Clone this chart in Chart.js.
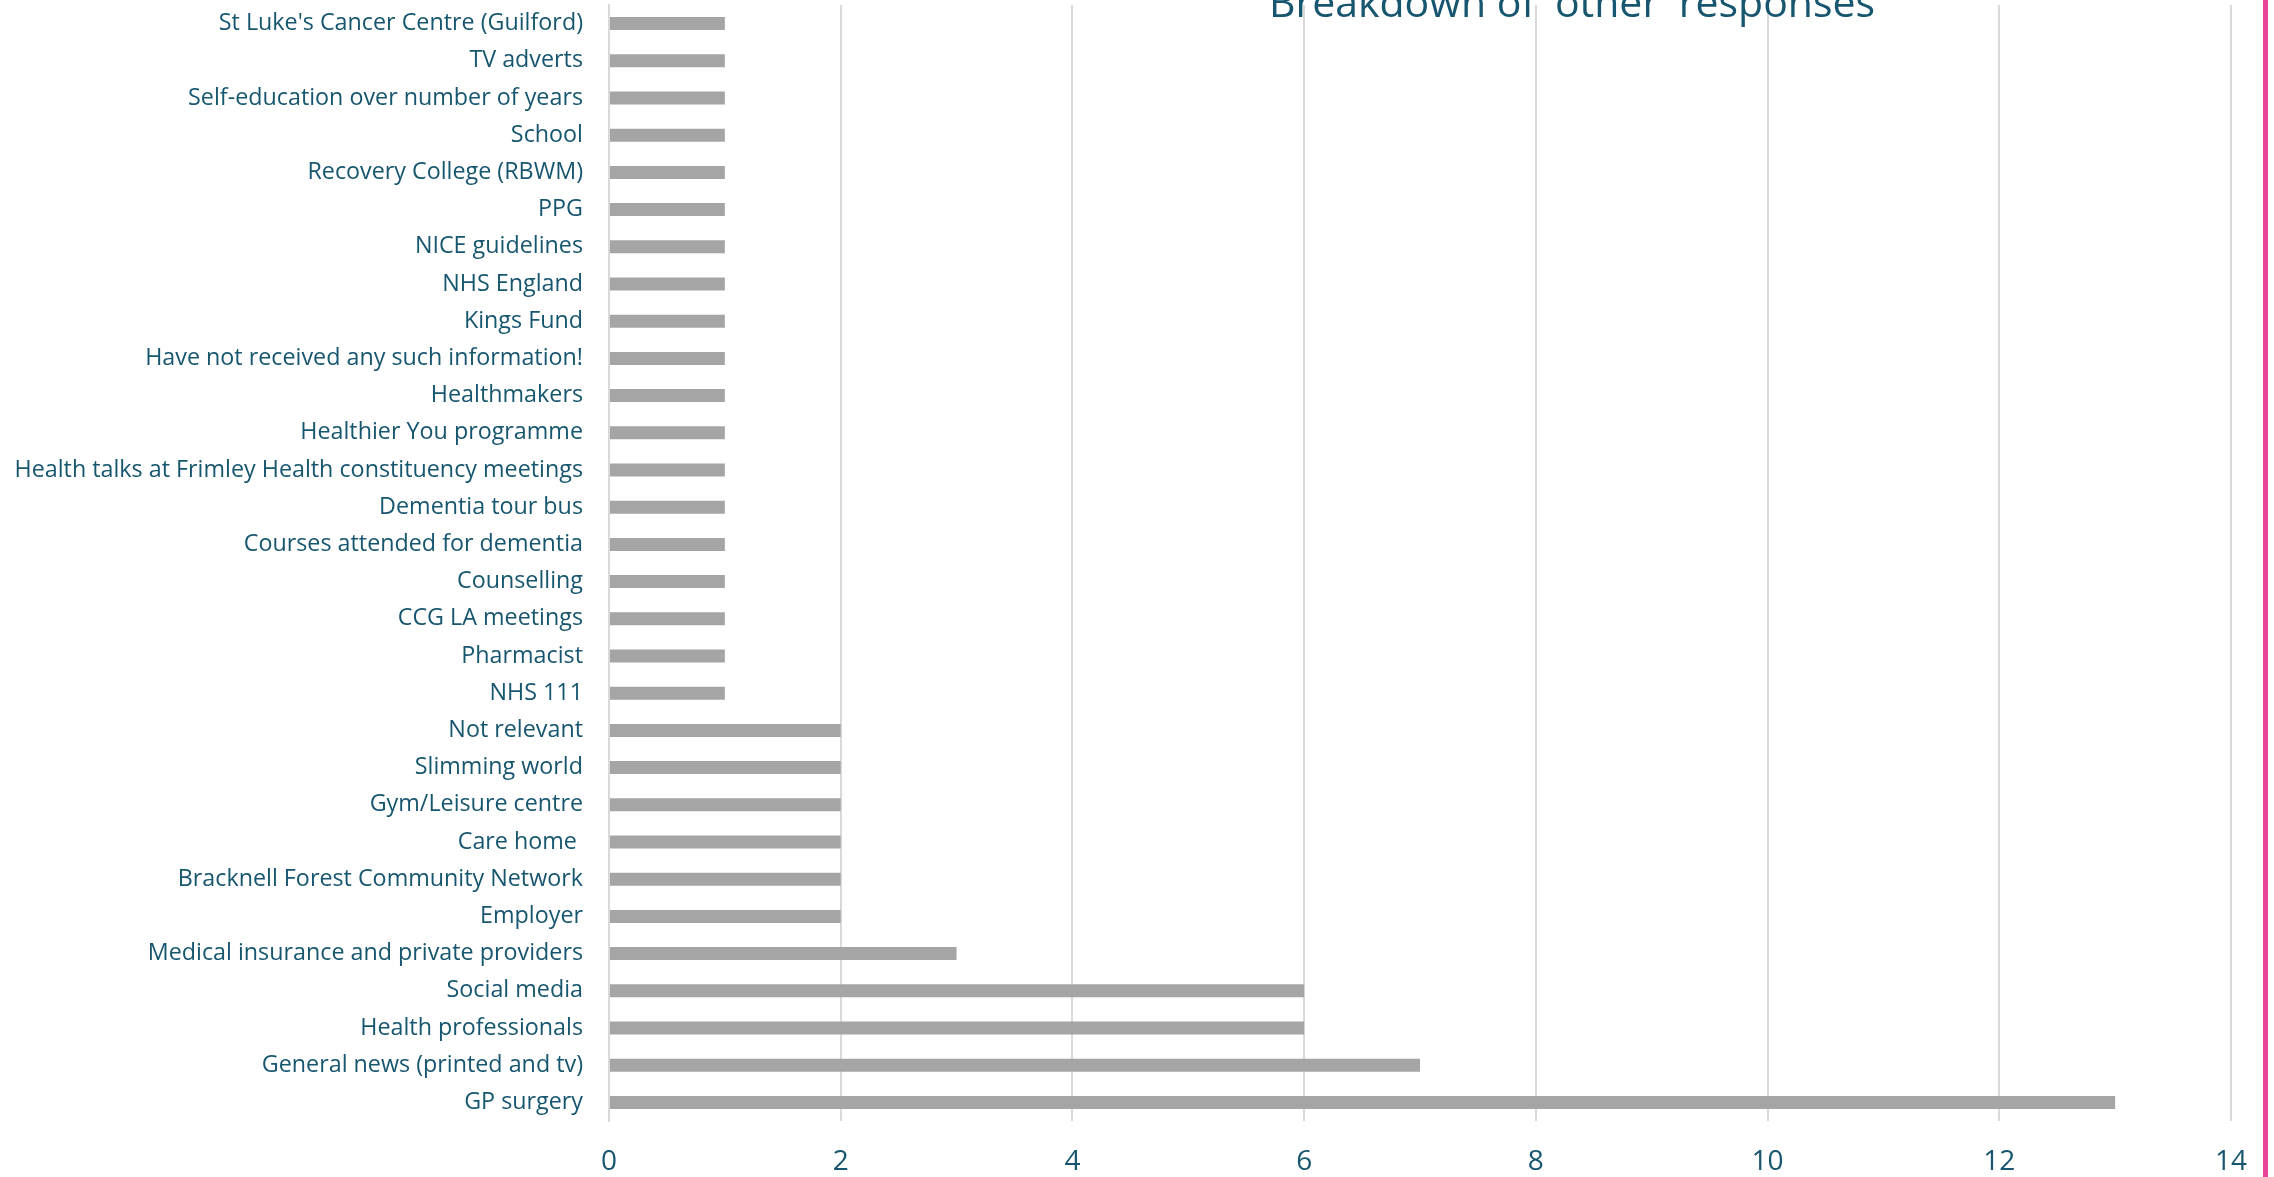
<!DOCTYPE html>
<html>
<head>
<meta charset="utf-8">
<script src="https://cdn.jsdelivr.net/npm/chart.js@4/dist/chart.umd.min.js"></script>
<style>
  html, body { margin: 0; padding: 0; background: #ffffff; }
  #wrap { position: relative; width: 2274px; height: 1177px; overflow: hidden; }
  #c { position: absolute; left: 0; top: 0; }
  #edge { position: absolute; left: 2263px; top: 0; width: 5px; height: 1177px; background: #e8449a; }
</style>
</head>
<body>
<div id="wrap">
  <canvas id="c" width="2274" height="1177"></canvas>
  <div id="edge"></div>
</div>
<script>
const chartTitle = "Breakdown of 'other' responses";

const categories = [
  "St Luke's Cancer Centre (Guilford)",
  "TV adverts",
  "Self-education over number of years",
  "School",
  "Recovery College (RBWM)",
  "PPG",
  "NICE guidelines",
  "NHS England",
  "Kings Fund",
  "Have not received any such information!",
  "Healthmakers",
  "Healthier You programme",
  "Health talks at Frimley Health constituency meetings",
  "Dementia tour bus",
  "Courses attended for dementia",
  "Counselling",
  "CCG LA meetings",
  "Pharmacist",
  "NHS 111",
  "Not relevant",
  "Slimming world",
  "Gym/Leisure centre",
  "Care home ",
  "Bracknell Forest Community Network",
  "Employer",
  "Medical insurance and private providers",
  "Social media",
  "Health professionals",
  "General news (printed and tv)",
  "GP surgery"
];

const counts = [
  1, 1, 1, 1, 1, 1, 1, 1, 1, 1,
  1, 1, 1, 1, 1, 1, 1, 1, 1,
  2, 2, 2, 2, 2, 2,
  3, 6, 6, 7, 13
];

const xTicks = [0, 2, 4, 6, 8, 10, 12, 14];

const textColor = '#17566f';
const gridColor = '#d9d9d9';
const barColor = '#a5a5a5';

const titlePlugin = {
  id: 'offsetTitle',
  afterDraw(chart) {
    const ctx = chart.ctx;
    ctx.save();
    ctx.font = '41px "Open Sans"';
    ctx.fillStyle = textColor;
    ctx.textAlign = 'center';
    ctx.textBaseline = 'alphabetic';
    ctx.fillText(chartTitle, chart.width * 0.6913, 17);
    ctx.restore();
  }
};

new Chart(document.getElementById('c'), {
  type: 'bar',
  data: {
    labels: categories,
    datasets: [{
      data: counts,
      backgroundColor: barColor,
      borderWidth: 0,
      categoryPercentage: 1.0,
      barPercentage: 0.35
    }]
  },
  options: {
    indexAxis: 'y',
    responsive: false,
    animation: false,
    devicePixelRatio: 1,
    layout: { padding: { left: 0, right: 43, top: 5, bottom: 0 } },
    plugins: {
      legend: { display: false },
      title: { display: false },
      tooltip: { enabled: false }
    },
    scales: {
      x: {
        min: 0,
        max: 14,
        afterBuildTicks(scale) { scale.ticks = xTicks.map(v => ({ value: v })); },
        afterFit(scale) {
          scale.height = 56;
          scale.paddingLeft = 0; scale.paddingRight = 0;
          scale.paddingTop = 0; scale.paddingBottom = 0;
        },
        grid: { color: gridColor, lineWidth: 2, drawTicks: false, tickLength: 0 },
        border: { display: false },
        ticks: {
          color: textColor,
          font: { family: 'Open Sans', size: 28 },
          padding: 24
        }
      },
      y: {
        afterFit(scale) {
          scale.width = 609;
          scale.paddingLeft = 0; scale.paddingRight = 0;
          scale.paddingTop = 0; scale.paddingBottom = 0;
        },
        grid: { display: false, drawTicks: false, tickLength: 0 },
        border: { display: true, color: gridColor, width: 2 },
        ticks: {
          color: textColor,
          font: { family: 'Open Sans', size: 23.3 },
          padding: 26,
          autoSkip: false
        }
      }
    }
  },
  plugins: [titlePlugin]
});
</script>
</body>
</html>
